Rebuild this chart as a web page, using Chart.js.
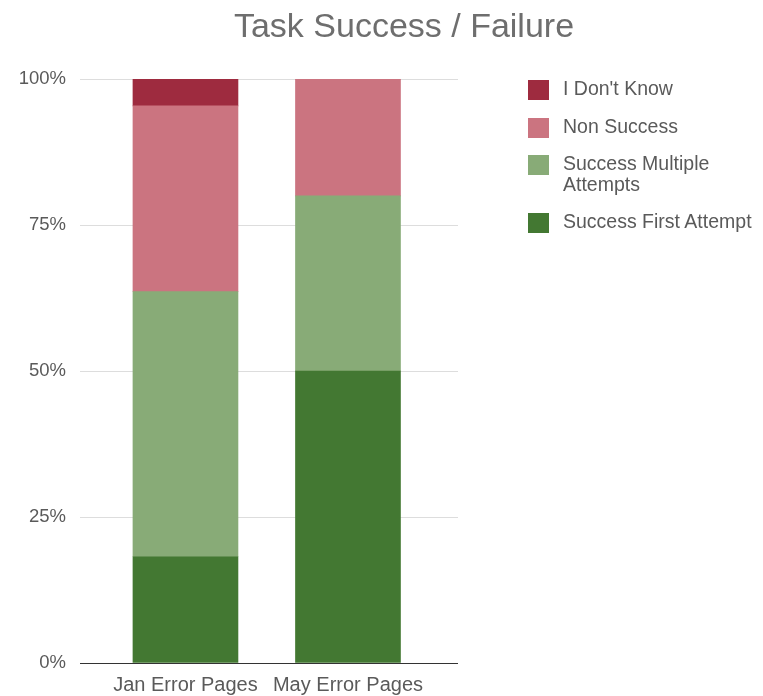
<!DOCTYPE html>
<html>
<head>
<meta charset="utf-8">
<script src="https://cdn.jsdelivr.net/npm/chart.js@4"></script>
<style>
    body { margin: 0; background: #fff; font-family: 'Liberation Sans', Arial, sans-serif; }
    #wrap { position: relative; width: 763px; height: 696px; }
    #title { position: absolute; left: 0; width: 808px; top: 8px; line-height: 34px; text-align: center; font-size: 34px; color: #6e6e6e; }
    #legend { position: absolute; left: 528px; top: 78px; list-style: none; margin: 0; padding: 0; }
    #legend li { position: relative; padding-left: 35px; font-size: 19.5px; line-height: 21px; color: #5a5a5a; white-space: nowrap; }
    #legend span { position: absolute; left: 0; top: 2px; width: 21px; height: 20px; }
</style>
</head>
<body>
<div id="wrap">
    <canvas id="chart" width="763" height="696"></canvas>
    <div id="title">Task Success / Failure</div>
    <ul id="legend"></ul>
</div>
<script>
const categories = ['Jan Error Pages', 'May Error Pages'];
const seriesNames = ['Success First Attempt', 'Success Multiple Attempts', 'Non Success', "I Don't Know"];
const firstAttempt = [18.2, 50];
const multipleAttempts = [45.4, 30];
const nonSuccess = [31.8, 20];
const dontKnow = [4.6, 0];
const yTicks = [0, 25, 50, 75, 100];
const colors = ['#437832', '#88ab77', '#cb7480', '#9e2b3f'];

const seriesValues = [firstAttempt, multipleAttempts, nonSuccess, dontKnow];

const datasets = seriesValues.map((values, i) => ({
    label: seriesNames[i],
    data: values.map((v, idx) => ({ x: idx, y: v })),
    backgroundColor: colors[i],
    borderWidth: 0,
    barThickness: 105,
}));

// legend, top item is the last series
const legendRows = [
    { name: seriesNames[3], color: colors[3], mt: 0 },
    { name: seriesNames[2], color: colors[2], mt: 17 },
    { name: 'Success Multiple<br>Attempts', color: colors[1], mt: 16 },
    { name: seriesNames[0], color: colors[0], mt: 16 },
];
document.getElementById('legend').innerHTML = legendRows
    .map((row) => `<li style="margin-top:${row.mt}px"><span style="background:${row.color}"></span>${row.name}</li>`)
    .join('');

const ctx = document.getElementById('chart').getContext('2d');
new Chart(ctx, {
    type: 'bar',
    data: { datasets },
    options: {
        responsive: false,
        animation: false,
        layout: { padding: { left: 0, right: 305, top: 79, bottom: 0 } },
        plugins: {
            legend: { display: false },
            tooltip: { enabled: false },
        },
        scales: {
            x: {
                type: 'linear',
                stacked: true,
                offset: false,
                min: -0.649,
                max: 1.677,
                afterBuildTicks: (scale) => {
                    scale.ticks = categories.map((c, i) => ({ value: i }));
                },
                afterFit: (scale) => {
                    scale.height = 33;
                },
                ticks: {
                    callback: (v) => categories[v],
                    color: '#5a5a5a',
                    font: { family: 'Liberation Sans', size: 20 },
                    padding: 10,
                    maxRotation: 0,
                    autoSkip: false,
                },
                grid: { display: false, drawTicks: false },
                border: { display: false },
            },
            y: {
                stacked: true,
                min: 0,
                max: 100,
                afterBuildTicks: (scale) => {
                    scale.ticks = yTicks.map((v) => ({ value: v }));
                },
                afterFit: (scale) => {
                    scale.width = 80;
                },
                ticks: {
                    callback: (v) => v + '%',
                    color: '#5a5a5a',
                    font: { family: 'Liberation Sans', size: 18.5 },
                    padding: 14,
                },
                grid: {
                    drawTicks: false,
                    color: (c) => (c.tick && c.tick.value === 0 ? '#333333' : '#dddddd'),
                    lineWidth: 1,
                },
                border: { display: false },
            },
        },
    },
});
</script>
</body>
</html>
